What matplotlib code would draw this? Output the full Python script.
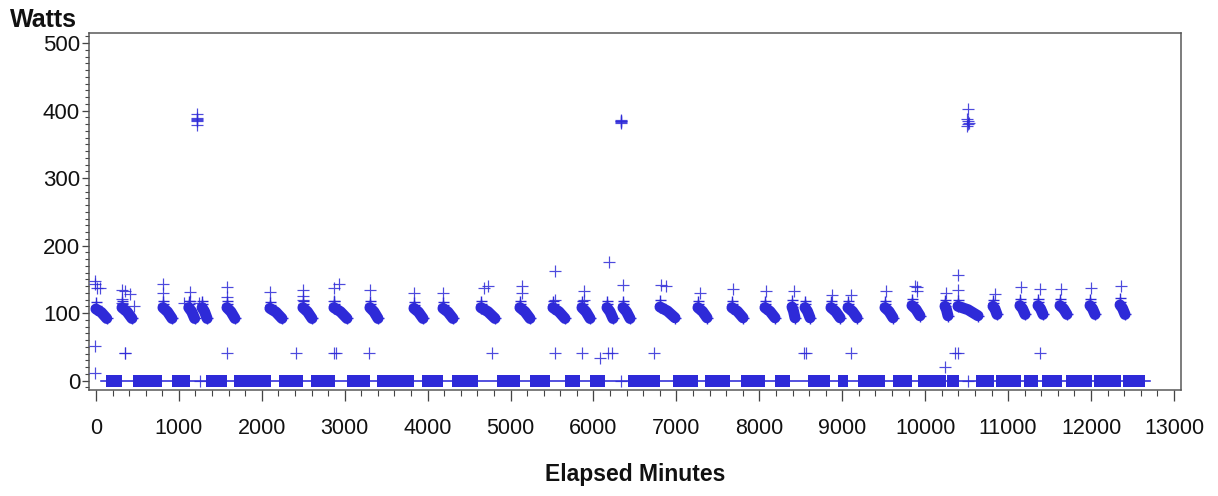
import matplotlib
matplotlib.use("Agg")
import matplotlib.pyplot as plt
from matplotlib.ticker import MultipleLocator

plt.rcParams['font.family'] = ['Liberation Sans', 'DejaVu Sans']

BLUE = '#2e2ad8'
PX = 0.72  # points per pixel at dpi 100

# ---- data (minutes, watts) ----
# "off" periods: readings at 0 W (start, end minutes)
off_start = [121, 446, 917, 1327, 1664, 2207, 2593, 3027, 3389, 3932, 4293, 4836,
             5234, 5656, 5958, 6416, 6959, 7345, 7779, 8189, 8587, 8948, 9190,
             9612, 9913, 10263, 10613, 10854, 11192, 11409, 11698, 12036, 12386]
off_end = [314, 796, 1134, 1580, 2111, 2496, 2882, 3304, 3835, 4185, 4607, 5113,
           5475, 5837, 6139, 6802, 7260, 7646, 8068, 8370, 8852, 9069, 9515,
           9841, 10251, 10408, 10830, 11156, 11361, 11650, 12012, 12362, 12651]

# "on" periods: watts decay from start level to end level
on_start = [0, 314, 808, 1120, 1280, 1580, 2098, 2496, 2870, 3304, 3835, 4185,
            4643, 5113, 5511, 5861, 6163, 6356, 6802, 7260, 7670, 8068, 8394,
            8551, 8864, 9069, 9515, 9841, 10239, 10396, 10818, 11143, 11361,
            11626, 11988, 12350]
on_end = [130, 434, 917, 1190, 1340, 1676, 2243, 2605, 3027, 3401, 3944, 4305,
          4812, 5234, 5656, 5958, 6235, 6440, 6983, 7369, 7803, 8189, 8430,
          8611, 8973, 9178, 9612, 9937, 10275, 10637, 10866, 11204, 11421,
          11710, 12048, 12410]
on_start_w = [106, 108, 108, 108, 108, 108, 107, 108, 108, 108, 107, 107,
              108, 108, 108, 108, 108, 108, 109, 108, 108, 108, 109,
              108, 108, 108, 108, 111, 110, 110, 110, 111, 111,
              111, 111, 112]
on_end_w = [92, 92, 92, 92, 92, 92, 92, 92, 92, 92, 92, 92,
            92, 92, 92, 92, 92, 92, 93, 93, 93, 93, 93,
            93, 93, 93, 93, 96, 96, 96, 98, 98, 98,
            98, 98, 98]

# isolated readings
pt_min = [-12, -12, 12, 48, -12, -12,
          314, 350, 410, 314, 350, 350, 314, 460,
          808, 808, 1060,
          1134, 1134, 1242,
          1580, 1580, 1580,
          2098,
          2496, 2496, 2496, 2411,
          2870, 2930, 2870, 2870, 2900,
          3304, 3292,
          3835, 4185,
          4680, 4730, 4780,
          5140, 5140,
          5540, 5540, 5540,
          5880, 5880, 5860,
          6190, 6170, 6220, 6080, 6360,
          6820, 6880, 6730,
          7280, 7680, 8080, 8420, 8560, 8540,
          8880, 9100, 9100, 9530,
          9880, 9900, 9900,
          10250, 10240, 10360, 10390, 10390, 10390,
          10840, 11160, 11380, 11380, 11640, 12000, 12360,
          1218, 1218, 1218, 1218, 1218, 1218,
          6331, 6331, 6331, 6331, 6331,
          10516, 10500, 10516, 10530, 10516, 10505,
          1254, 6331, 10516]
pt_w = [147, 143, 137, 137, 51, 11,
        134, 133, 128, 121, 41, 41, 115, 110,
        143, 130, 115,
        131, 118, 115,
        139, 124, 41,
        131,
        134, 125, 119, 41,
        137, 143, 118, 41, 41,
        134, 41,
        130, 130,
        137, 140, 41,
        140, 130,
        162, 120, 41,
        133, 120, 41,
        175, 41, 41, 33, 142,
        142, 140, 41,
        130, 135, 133, 132, 41, 41,
        127, 127, 41, 132,
        140, 138, 133,
        130, 20, 41, 41, 157, 134,
        128, 138, 135, 41, 136, 137, 140,
        395, 389, 387, 386, 384, 378,
        385, 384, 383, 382, 386,
        403, 388, 385, 382, 380, 377,
        0, 0, 0]

# ---- figure ----
fig = plt.figure(figsize=(12.18, 4.96), dpi=100)
ax = fig.add_axes([89 / 1218, 1 - 390 / 496, (1181 - 89) / 1218, (390 - 33) / 496])

# baseline of zero readings
ax.plot([min(off_start) - 60, max(off_end) + 60], [0, 0], color=BLUE, lw=1.6 * PX, zorder=2)
# dense blocks of zero readings
ax.hlines([0] * len(off_start), off_start, off_end, colors=BLUE, lw=12 * PX, zorder=3)
# on periods (dense decaying readings)
for s, e, a, b in zip(on_start, on_end, on_start_w, on_end_w):
    m = (a + b) / 2
    ax.plot([s, (s + e) / 2, e], [a, m + 2, b], color=BLUE, lw=11 * PX,
            solid_capstyle='round', solid_joinstyle='round', zorder=3)
    ax.plot([s, s, s, e], [a + 10, a + 5, a, b], ls='none', marker='+', ms=11 * PX,
            mew=1.4 * PX, color=BLUE, zorder=3)
# isolated readings
ax.plot(pt_min, pt_w, ls='none', marker='+', ms=12 * PX, mew=1.2 * PX,
        color=BLUE, alpha=0.85, zorder=4)

ax.set_xlim(-84, 13085)
ax.set_ylim(-14, 515)
ax.xaxis.set_major_locator(MultipleLocator(1000))
ax.xaxis.set_minor_locator(MultipleLocator(200))
ax.yaxis.set_major_locator(MultipleLocator(100))
ax.yaxis.set_minor_locator(MultipleLocator(10))

for sp in ax.spines.values():
    sp.set_color('#555555')
    sp.set_linewidth(1.5 * PX)

ax.tick_params(axis='x', which='major', length=11 * PX, width=1.3 * PX, color='#444444',
               labelsize=15.5, pad=12, labelcolor='#111111')
ax.tick_params(axis='x', which='minor', length=5.5 * PX, width=1.1 * PX, color='#444444')
ax.tick_params(axis='y', which='major', length=7.5 * PX, width=1.3 * PX, color='#444444',
               labelsize=16, pad=1, labelcolor='#111111')
ax.tick_params(axis='y', which='minor', length=4 * PX, width=1.1 * PX, color='#444444')

fig.text(10 / 1218, 1 - 27 / 496, 'Watts', fontsize=18, fontweight='bold',
         ha='left', va='baseline', color='#111111')
fig.text(635 / 1218, 1 - 474 / 496, 'Elapsed Minutes', fontsize=16.5, fontweight='bold',
         ha='center', va='center', color='#111111')

fig.savefig('out.png', dpi=100)
